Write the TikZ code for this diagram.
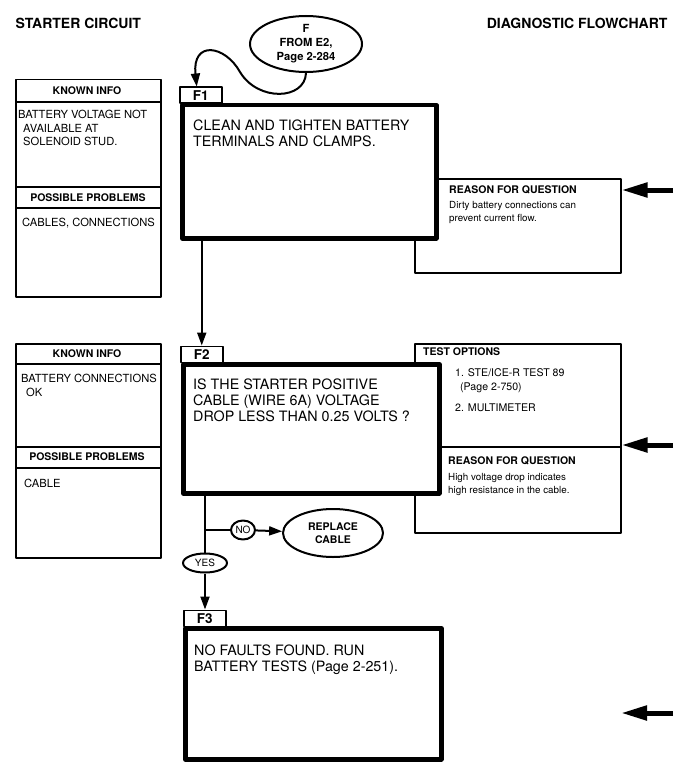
\documentclass[tikz,border=0pt]{standalone}
\usepackage{fontspec}
\setmainfont{TeX Gyre Heros}
\usetikzlibrary{arrows.meta,shapes.geometric,positioning}
\tikzset{
  fbox/.style={draw, fill=white, line width=4.5pt, anchor=north west, inner sep=0pt},
  tabbox/.style={draw, fill=white, line width=1.5pt, anchor=south west, minimum width=42pt, minimum height=16pt, inner sep=0pt, font=\bfseries\fontsize{13.5}{15}\selectfont},
  thinbox/.style={draw, line width=1.5pt, anchor=north west, inner sep=0pt},
  rule/.style={line width=1.5pt},
  line/.style={line width=2pt},
  flow/.style={line width=2pt, -{Triangle[length=13pt,width=9pt]}},
  sidearrow/.style={line width=5pt, -{Triangle[length=26pt,width=14pt]}},
  oval/.style={draw, fill=white, ellipse, line width=2pt, inner sep=0pt, align=center},
  title/.style={font=\bfseries\fontsize{14}{16}\selectfont},
  head/.style={font=\bfseries\fontsize{10.5}{13}\selectfont},
  big/.style={font=\fontsize{14.3}{16}\selectfont, align=left, anchor=north west, inner sep=0pt},
  small/.style={font=\fontsize{9.8}{13.5}\selectfont, align=left, anchor=north west, inner sep=0pt},
  info/.style={font=\fontsize{11.2}{13.5}\selectfont, align=left, anchor=north west, inner sep=0pt},
}
\begin{document}
\begin{tikzpicture}[x=1pt, y=-1pt, line join=round]
\useasboundingbox (0,0) rectangle (688,773);
\node[title, anchor=west] (start) at (12,23) {STARTER CIRCUIT};
\node[title, anchor=east] (diag) at (671,23) {DIAGNOSTIC FLOWCHART};
\node[oval, minimum width=112pt, minimum height=56pt, font=\bfseries\fontsize{11.2}{14}\selectfont] (from) at (306,44) {F\\FROM E2,\\Page 2-284};

% left info boxes
\node[thinbox, minimum width=145pt, minimum height=217pt] (known1) at (15,79) {};
\draw[rule] (15,102) -- (160,102) (15,187) -- (160,187) (15,208) -- (160,208);
\node[head] (known1h) at (87,91) {KNOWN INFO};
\node[info] (known1t) at (18,110) {BATTERY VOLTAGE NOT\\\hspace*{5pt}AVAILABLE AT\\\hspace*{5pt}SOLENOID STUD.};
\node[head] (prob1h) at (88,198) {POSSIBLE PROBLEMS};
\node[info] (prob1t) at (22,218) {CABLES, CONNECTIONS};

\node[thinbox, minimum width=145pt, minimum height=214pt] (known2) at (15,343) {};
\draw[rule] (15,364) -- (160,364) (15,447) -- (160,447) (15,468) -- (160,468);
\node[head] (known2h) at (87,354) {KNOWN INFO};
\node[info] (known2t) at (21,374) {BATTERY CONNECTIONS\\\hspace*{5pt}OK};
\node[head] (prob2h) at (87,457) {POSSIBLE PROBLEMS};
\node[info] (prob2t) at (24,479) {CABLE};

% reason and test boxes (behind the F boxes)
\node[thinbox, minimum width=206pt, minimum height=94pt] (reason1) at (414,178) {};
\node[head, anchor=north west, inner sep=0pt] (reason1h) at (449,186) {REASON FOR QUESTION};
\node[small] (reason1t) at (449,201) {Dirty battery connections can\\prevent current flow.};

\node[thinbox, minimum width=206pt, minimum height=189pt] (test2) at (414,343) {};
\draw[rule] (414,447) -- (620,447);
\node[head, anchor=north west, inner sep=0pt] (test2h) at (423,348) {TEST OPTIONS};
\node[small, font=\fontsize{10.6}{18}\selectfont] (test2t) at (455,368) {1. STE/ICE-R TEST 89\\[-4pt]\hspace*{5pt}(Page 2-750)\\[3pt]2. MULTIMETER};
\node[head, anchor=north west, inner sep=0pt] (reason2h) at (448,457) {REASON FOR QUESTION};
\node[small] (reason2t) at (448,473) {High voltage drop indicates\\high resistance in the cable.};

% F steps
\node[fbox, minimum width=254pt, minimum height=133pt] (f1) at (180,103) {};
\node[tabbox] (tab1) at (179,104) {F1};
\node[big] (f1t) at (193,120) {CLEAN AND TIGHTEN BATTERY\\TERMINALS AND CLAMPS.};

\node[fbox, minimum width=256pt, minimum height=129pt] (f2) at (181,362) {};
\node[tabbox] (tab2) at (180,363) {F2};
\node[big] (f2t) at (193,379) {IS THE STARTER POSITIVE\\CABLE (WIRE 6A) VOLTAGE\\DROP LESS THAN 0.25 VOLTS ?};

\node[fbox, minimum width=256pt, minimum height=131pt] (f3) at (183,626) {};
\node[tabbox] (tab3) at (183,627) {F3};
\node[big] (f3t) at (194,645) {NO FAULTS FOUND. RUN\\BATTERY TESTS (Page 2-251).};

% answers
\node[oval, minimum width=44pt, minimum height=19pt, font=\fontsize{10}{12}\selectfont] (yes) at (205,563) {YES};
\node[oval, minimum width=24pt, minimum height=19pt, font=\fontsize{10}{12}\selectfont] (no) at (243,530) {NO};
\node[oval, minimum width=100pt, minimum height=48pt, font=\bfseries\fontsize{10.5}{12.5}\selectfont] (replace) at (333,533) {REPLACE\\CABLE};

% connectors
\draw[flow] (from.south) .. controls (305,100) and (258,102) .. (240,72) .. controls (225,45) and (192,40) .. ([xshift=-4pt]tab1.north);
\draw[flow] (tab2.north |- f1.south) -- (tab2.north);
\draw[line] (yes |- f2.south) -- (yes.north);
\draw[line] (yes |- no) -- (no);
\draw[flow] (no) -- (replace);
\draw[flow] (yes) -- (yes |- tab3.north);

% side arrows
\coordinate (s1) at (673,190);
\coordinate (s2) at (673,445);
\coordinate (s3) at (673,713);
\coordinate (e3) at (621,713);
\draw[sidearrow] (s1) -- (s1 -| reason1.east);
\draw[sidearrow] (s2) -- (s2 -| test2.east);
\draw[sidearrow] (s3) -- (e3);
\end{tikzpicture}
\end{document}
